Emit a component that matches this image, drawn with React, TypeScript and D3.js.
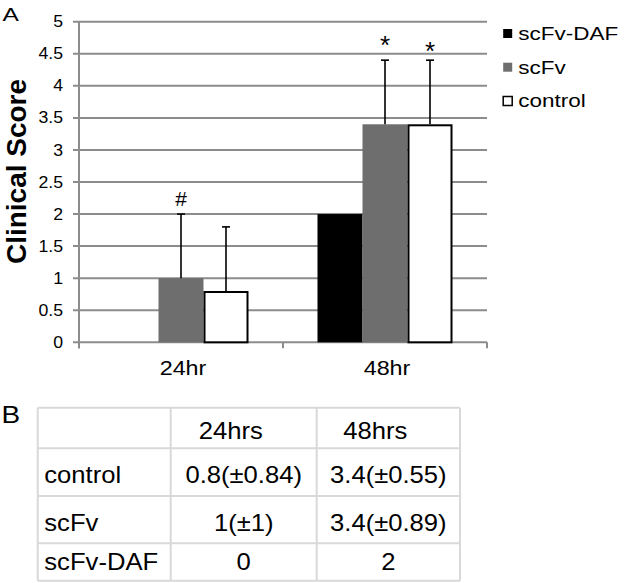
import React from "react";
import * as d3 from "d3";

// ---- data ----
const groups = ["24hr", "48hr"];
const series = ["scFv-DAF", "scFv", "control"];
const values24 = [0, 1, 0.8];
const values48 = [2, 3.4, 3.4];
const errors24 = [0, 1, 1];
const errors48 = [0, 1, 1];
const marks24 = ["", "#", ""];
const marks48 = ["", "*", "*"];
const yTicks = [0, 0.5, 1, 1.5, 2, 2.5, 3, 3.5, 4, 4.5, 5];
const yTickLabels = ["0", "0.5", "1", "1.5", "2", "2.5", "3", "3.5", "4", "4.5", "5"];
const tableCols = ["24hrs", "48hrs"];
const tableRows = ["control", "scFv", "scFv-DAF"];
const tableCells24 = ["0.8(±0.84)", "1(±1)", "0"];
const tableCells48 = ["3.4(±0.55)", "3.4(±0.89)", "2"];

const FONT = "'Liberation Sans', Arial, Helvetica, sans-serif";
const seriesFill = ["#000000", "#6e6e6e", "#ffffff"];
const seriesStroke = ["none", "none", "#000000"];

const T = ({ x, y, size, sx = 1, anchor = "start", weight = "normal", children, rotate = 0 }: any) => (
  <text
    transform={`translate(${x},${y}) rotate(${rotate}) scale(${sx},1)`}
    fontSize={size}
    textAnchor={anchor}
    fontWeight={weight}
    fontFamily={FONT}
    fill="#000"
  >
    {children}
  </text>
);

export default function App() {
  const x0 = 79, x1 = 487, yTop = 21.7, yBot = 342.3;
  const y = d3.scaleLinear().domain([0, 5]).range([yBot, yTop]);
  const xb = d3.scaleBand().domain(groups).range([x0, x1]).padding(0);
  const xi = d3
    .scaleBand()
    .domain(series)
    .range([0, xb.bandwidth()])
    .paddingInner(0)
    .paddingOuter(34.5 / 45);

  const vals = [values24, values48];
  const errs = [errors24, errors48];
  const marks = [marks24, marks48];

  const colEdges = [37.7, 170.7, 316.7, 460];
  const rowEdges = [407.7, 448.3, 496, 543.3, 580.7];
  const rowBase = [483, 531, 570];
  const tableFs = 23.3;
  const tableSx = 1.1;

  const legendY = [33.5, 67.2, 101];

  const markStyle = (m: string, si: number) =>
    m === "#" ? { size: 21, dy: -8 } : { size: 26, dy: si === 1 ? -6 : -0.5 };

  return (
    <svg
      width={624}
      height={583}
      style={{ position: "absolute", left: 0, top: 0, background: "#fff" }}
    >
      <rect x={0} y={0} width={624} height={583} fill="#fff" />
      {/* gridlines */}
      {yTicks.map((t) => (
        <line key={"g" + t} x1={x0 - 6} x2={x1} y1={y(t)} y2={y(t)} stroke="#8c8c8c" strokeWidth={2} />
      ))}
      {/* y axis */}
      <line x1={x0} x2={x0} y1={y(5)} y2={yBot + 6} stroke="#8c8c8c" strokeWidth={2} />
      {/* x ticks */}
      {[x0, x0 + xb.bandwidth(), x1].map((xx, i) => (
        <line key={"xt" + i} x1={xx} x2={xx} y1={yBot} y2={yBot + 6} stroke="#8c8c8c" strokeWidth={2} />
      ))}
      {/* y tick labels */}
      {yTicks.map((t, i) => (
        <T key={"yl" + t} x={63} y={y(t) + 5.6} size={15.8} sx={1.12} anchor="end">
          {yTickLabels[i]}
        </T>
      ))}
      {/* bars */}
      {groups.map((g, gi) =>
        series.map((s, si) => {
          const v = vals[gi][si];
          if (v <= 0) return null;
          const bx = (xb(g) as number) + (xi(s) as number);
          const w = xi.bandwidth();
          const sw = seriesStroke[si] === "none" ? 0 : 2;
          return (
            <rect
              key={g + s}
              x={bx + sw / 2}
              y={y(v) + sw / 2}
              width={w - sw}
              height={y(0) - y(v) - sw / 2}
              fill={seriesFill[si]}
              stroke={seriesStroke[si]}
              strokeWidth={sw}
            />
          );
        })
      )}
      {/* error bars */}
      {groups.map((g, gi) =>
        series.map((s, si) => {
          const v = vals[gi][si];
          const e = errs[gi][si];
          if (!e) return null;
          const cx = (xb(g) as number) + (xi(s) as number) + xi.bandwidth() / 2;
          return (
            <g key={"e" + g + s} stroke="#000" strokeWidth={1.6}>
              <line x1={cx} x2={cx} y1={y(v)} y2={y(v + e)} />
              <line x1={cx - 4} x2={cx + 4} y1={y(v + e)} y2={y(v + e)} />
            </g>
          );
        })
      )}
      {/* significance marks */}
      {groups.map((g, gi) =>
        series.map((s, si) => {
          const m = marks[gi][si];
          if (!m) return null;
          const cx = (xb(g) as number) + (xi(s) as number) + xi.bandwidth() / 2;
          const top = y(vals[gi][si] + errs[gi][si]);
          const st = markStyle(m, si);
          return (
            <T key={"m" + g + s} x={cx} y={top + st.dy} size={st.size} anchor="middle">
              {m}
            </T>
          );
        })
      )}
      {/* x labels */}
      {groups.map((g) => (
        <T key={"xl" + g} x={(xb(g) as number) + xb.bandwidth() / 2 + 2} y={375} size={21} sx={1.11} anchor="middle">
          {g}
        </T>
      ))}
      {/* y title */}
      <T x={25.5} y={171.5} size={28} weight="bold" anchor="middle" rotate={-90}>
        Clinical Score
      </T>
      {/* legend */}
      {series.map((s, si) => (
        <g key={"lg" + s}>
          <rect
            x={503.2}
            y={legendY[si] - 4.5}
            width={9}
            height={9}
            fill={seriesFill[si]}
            stroke={si === 2 ? "#000" : "none"}
            strokeWidth={si === 2 ? 1.5 : 0}
          />
          <T x={518.3} y={legendY[si] + 6.4} size={17.7} sx={1.27}>
            {s}
          </T>
        </g>
      ))}
      {/* panel labels */}
      <T x={2.5} y={20.5} size={17.5} sx={1.4}>A</T>
      <T x={1.5} y={423.3} size={23.3} sx={1.2}>B</T>
      {/* table */}
      {colEdges.map((cx, i) => (
        <line key={"tc" + i} x1={cx} x2={cx} y1={rowEdges[0]} y2={rowEdges[rowEdges.length - 1]} stroke="#d9d9d9" strokeWidth={2} />
      ))}
      {rowEdges.map((ry, i) => (
        <line key={"tr" + i} x1={colEdges[0]} x2={colEdges[colEdges.length - 1]} y1={ry} y2={ry} stroke="#d9d9d9" strokeWidth={2} />
      ))}
      {tableCols.map((c, ci) => (
        <T
          key={"th" + c}
          x={(colEdges[ci + 1] + colEdges[ci + 2]) / 2 - 13}
          y={438.5}
          size={tableFs}
          sx={tableSx}
          anchor="middle"
        >
          {c}
        </T>
      ))}
      {tableRows.map((r, ri) => (
        <g key={"row" + r}>
          <T x={44.3} y={rowBase[ri]} size={tableFs} sx={tableSx}>
            {r}
          </T>
          <T x={(colEdges[1] + colEdges[2]) / 2} y={rowBase[ri]} size={tableFs} sx={tableSx} anchor="middle">
            {tableCells24[ri]}
          </T>
          <T x={(colEdges[2] + colEdges[3]) / 2} y={rowBase[ri]} size={tableFs} sx={tableSx} anchor="middle">
            {tableCells48[ri]}
          </T>
        </g>
      ))}
    </svg>
  );
}
